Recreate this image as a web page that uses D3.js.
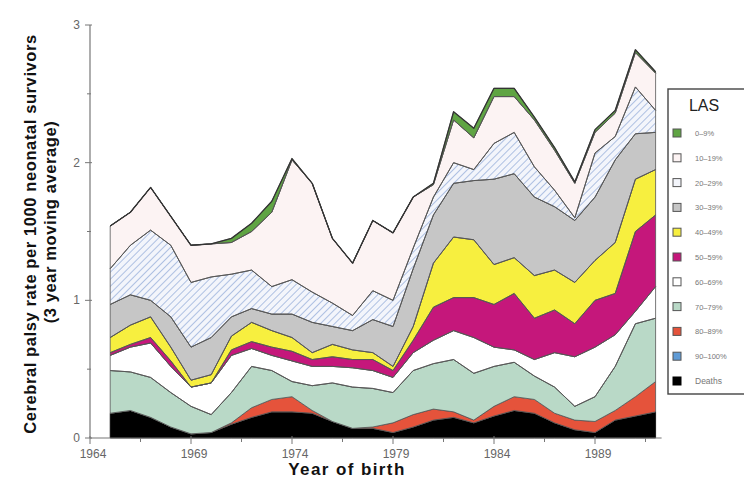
<!DOCTYPE html>
<html><head><meta charset="utf-8">
<script src="https://cdn.jsdelivr.net/npm/d3@7"></script>
<style>body{margin:0;background:#fff}svg{display:block;font-family:"Liberation Sans",Arial,Helvetica,sans-serif}</style>
</head><body><svg id="c" width="744" height="481"></svg>
<script>
// ---- data ----
const years = [1965,1966,1967,1968,1969,1970,1971,1972,1973,1974,1975,1976,1977,1978,1979,1980,1981,1982,1983,1984,1985,1986,1987,1988,1989,1990,1991,1992];
const deaths = [0.18,0.20,0.15,0.08,0.03,0.04,0.10,0.15,0.19,0.19,0.18,0.12,0.07,0.07,0.04,0.08,0.13,0.15,0.11,0.16,0.20,0.18,0.11,0.06,0.04,0.13,0.16,0.19];
const las90 = [0,0,0,0,0,0,0,0,0,0,0,0,0,0,0,0,0,0,0,0,0,0,0,0,0,0,0,0];
const las80 = [0,0,0,0,0,0,0.01,0.07,0.09,0.11,0.02,0,0,0.01,0.07,0.09,0.08,0.04,0.02,0.07,0.10,0.10,0.07,0.07,0.08,0.07,0.14,0.22];
const las70 = [0.31,0.28,0.29,0.25,0.20,0.13,0.22,0.30,0.21,0.11,0.18,0.28,0.30,0.28,0.22,0.32,0.33,0.38,0.34,0.29,0.25,0.17,0.19,0.10,0.18,0.32,0.53,0.46];
const las60 = [0.11,0.18,0.25,0.19,0.14,0.23,0.27,0.13,0.11,0.15,0.14,0.12,0.14,0.13,0.11,0.13,0.17,0.21,0.26,0.14,0.09,0.12,0.25,0.36,0.36,0.23,0.09,0.23];
const las50 = [0.02,0.02,0.04,0.04,0.00,0.00,0.04,0.05,0.06,0.07,0.05,0.07,0.06,0.08,0.05,0.09,0.24,0.24,0.29,0.31,0.41,0.30,0.31,0.24,0.34,0.30,0.58,0.52];
const las40 = [0.11,0.14,0.15,0.10,0.05,0.06,0.10,0.14,0.12,0.10,0.05,0.09,0.07,0.05,0.03,0.10,0.32,0.44,0.42,0.29,0.26,0.31,0.29,0.30,0.29,0.37,0.38,0.33];
const las30 = [0.24,0.22,0.12,0.22,0.24,0.27,0.14,0.10,0.12,0.17,0.22,0.13,0.14,0.24,0.29,0.42,0.35,0.39,0.43,0.62,0.61,0.57,0.46,0.45,0.46,0.60,0.33,0.27];
const las20 = [0.26,0.36,0.51,0.52,0.47,0.44,0.31,0.28,0.20,0.25,0.22,0.17,0.11,0.21,0.19,0.15,0.13,0.15,0.08,0.26,0.30,0.22,0.12,0.02,0.32,0.17,0.34,0.16];
const las10 = [0.31,0.24,0.31,0.21,0.27,0.24,0.23,0.28,0.54,0.87,0.79,0.47,0.38,0.51,0.49,0.37,0.09,0.31,0.23,0.34,0.26,0.34,0.29,0.25,0.15,0.17,0.25,0.27];
const las0 = [0,0,0,0,0,0,0.03,0.06,0.08,0.01,0,0,0,0,0,0,0.01,0.06,0.07,0.06,0.06,0.02,0.02,0.01,0.02,0.02,0.02,0.01];

const keys = ["Deaths","90–100%","80–89%","70–79%","60–69%","50–59%","40–49%","30–39%","20–29%","10–19%","0–9%"];
const seriesValues = [deaths,las90,las80,las70,las60,las50,las40,las30,las20,las10,las0];
const xTicks = [1964,1969,1974,1979,1984,1989];
const xMinor = [1966.5,1971.5,1976.5,1981.5,1986.5,1991.5];
const yTicks = [0,1,2,3];
const yMinor = [0.5,1.5,2.5];
const legendOrder = ["0–9%","10–19%","20–29%","30–39%","40–49%","50–59%","60–69%","70–79%","80–89%","90–100%","Deaths"];

// ---- styles ----
const fills = {
  "Deaths":"#000000","90–100%":"#5f9bd6","80–89%":"#e5533b","70–79%":"#b9d9c7",
  "60–69%":"#ffffff","50–59%":"#c5177b","40–49%":"#f7ef3f","30–39%":"#c6c6c6",
  "20–29%":"url(#hatch)","10–19%":"#fcf3f3","0–9%":"#5fa443"
};

const svg = d3.select("#c");
const defs = svg.append("defs");
const pat = defs.append("pattern").attr("id","hatch").attr("patternUnits","userSpaceOnUse")
  .attr("width",5).attr("height",5).attr("patternTransform","rotate(45)");
pat.append("rect").attr("width",5).attr("height",5).attr("fill","#f3f5fb");
pat.append("line").attr("x1",0).attr("y1",0).attr("x2",0).attr("y2",5).attr("stroke","#9cb3dc").attr("stroke-width",1.6);

const x = d3.scaleLinear().domain([1964,1992]).range([90,655.6]);
const y = d3.scaleLinear().domain([0,3]).range([438,25]);

const rows = years.map((yr,i)=>{const r={year:yr}; keys.forEach((k,j)=>r[k]=seriesValues[j][i]); return r;});
const stacked = d3.stack().keys(keys)(rows);

const area = d3.area().x(d=>x(d.data.year)).y0(d=>y(d[0])).y1(d=>y(d[1]));
const line = d3.line().x(d=>x(d.data.year)).y(d=>y(d[1]));

svg.append("g").selectAll("path").data(stacked).join("path")
  .attr("d",area).attr("fill",d=>fills[d.key])
  .attr("stroke",d=>d.key==="Deaths"?"#000":"#555").attr("stroke-width",0.8).attr("stroke-linejoin","round");

// boundary lines
svg.append("g").selectAll("path").data(stacked.filter(s=>s.key!=="Deaths"&&s.key!=="90–100%"&&s.key!=="80–89%")).join("path")
  .attr("d",line).attr("fill","none").attr("stroke",d=>d.key==="0–9%"?"#333":"#555")
  .attr("stroke-width",d=>d.key==="0–9%"?1.3:0.9).attr("stroke-linejoin","round");

// ---- axes ----
const axCol = "#777";
const gx = svg.append("g").attr("transform","translate(0,438)");
gx.append("line").attr("x1",x(1964)).attr("x2",x(1992)+6).attr("stroke",axCol).attr("stroke-width",1.2);
gx.selectAll(".mj").data(xTicks).join("line").attr("x1",d=>x(d)).attr("x2",d=>x(d)).attr("y1",-2).attr("y2",6).attr("stroke",axCol);
gx.selectAll(".mn").data(xMinor).join("line").attr("class","mn").attr("x1",d=>x(d)).attr("x2",d=>x(d)).attr("y1",0).attr("y2",4).attr("stroke",axCol);
gx.selectAll("text").data(xTicks).join("text").attr("x",d=>x(d)+3).attr("y",20).attr("text-anchor","middle")
  .attr("font-size",12).attr("fill","#666").text(d=>d);

const gy = svg.append("g").attr("transform","translate(90,0)");
gy.append("line").attr("y1",y(0)).attr("y2",y(3)).attr("stroke",axCol).attr("stroke-width",1.2);
gy.selectAll(".mj").data(yTicks).join("line").attr("y1",d=>y(d)).attr("y2",d=>y(d)).attr("x1",-5).attr("x2",2).attr("stroke",axCol);
gy.selectAll(".mn").data(yMinor).join("line").attr("class","mn").attr("y1",d=>y(d)).attr("y2",d=>y(d)).attr("x1",-3).attr("x2",1).attr("stroke",axCol);
gy.selectAll("text").data(yTicks).join("text").attr("x",-10).attr("y",d=>y(d)+4).attr("text-anchor","end")
  .attr("font-size",12).attr("fill","#666").text(d=>d);

svg.append("text").attr("x",347).attr("y",475).attr("text-anchor","middle").attr("font-size",17)
  .attr("font-weight","bold").attr("letter-spacing",1.4).attr("fill","#111").text("Year of birth");
svg.append("text").attr("transform","translate(36,234) rotate(-90)").attr("text-anchor","middle").attr("font-size",16.5)
  .attr("font-weight","bold").attr("letter-spacing",0.6).attr("fill","#111").text("Cerebral palsy rate per 1000 neonatal survivors");
svg.append("text").attr("transform","translate(56,222) rotate(-90)").attr("text-anchor","middle").attr("font-size",16.5)
  .attr("font-weight","bold").attr("letter-spacing",0.6).attr("fill","#111").text("(3 year moving average)");

// ---- legend ----
const lg = svg.append("g");
lg.append("rect").attr("x",668).attr("y",89).attr("width",90).attr("height",305).attr("fill","#fff").attr("stroke","#444").attr("stroke-width",1.4);
lg.append("text").attr("x",704).attr("y",111).attr("text-anchor","middle").attr("font-size",16).attr("fill","#222").text("LAS");
const legFill = k => k==="20–29%" ? "#f3f5fb" : fills[k];
const items = lg.selectAll("g.it").data(legendOrder).join("g").attr("class","it")
  .attr("transform",(d,i)=>`translate(0,${133+i*24.8})`);
items.append("rect").attr("x",673).attr("y",-4).attr("width",8).attr("height",8)
  .attr("fill",legFill).attr("stroke",d=>d==="Deaths"?"#000":"#555").attr("stroke-width",1);
items.append("text").attr("x",695).attr("y",3).attr("font-size",d=>d==="Deaths"?8.5:7.5).attr("fill","#777").text(d=>d);
</script></body></html>
